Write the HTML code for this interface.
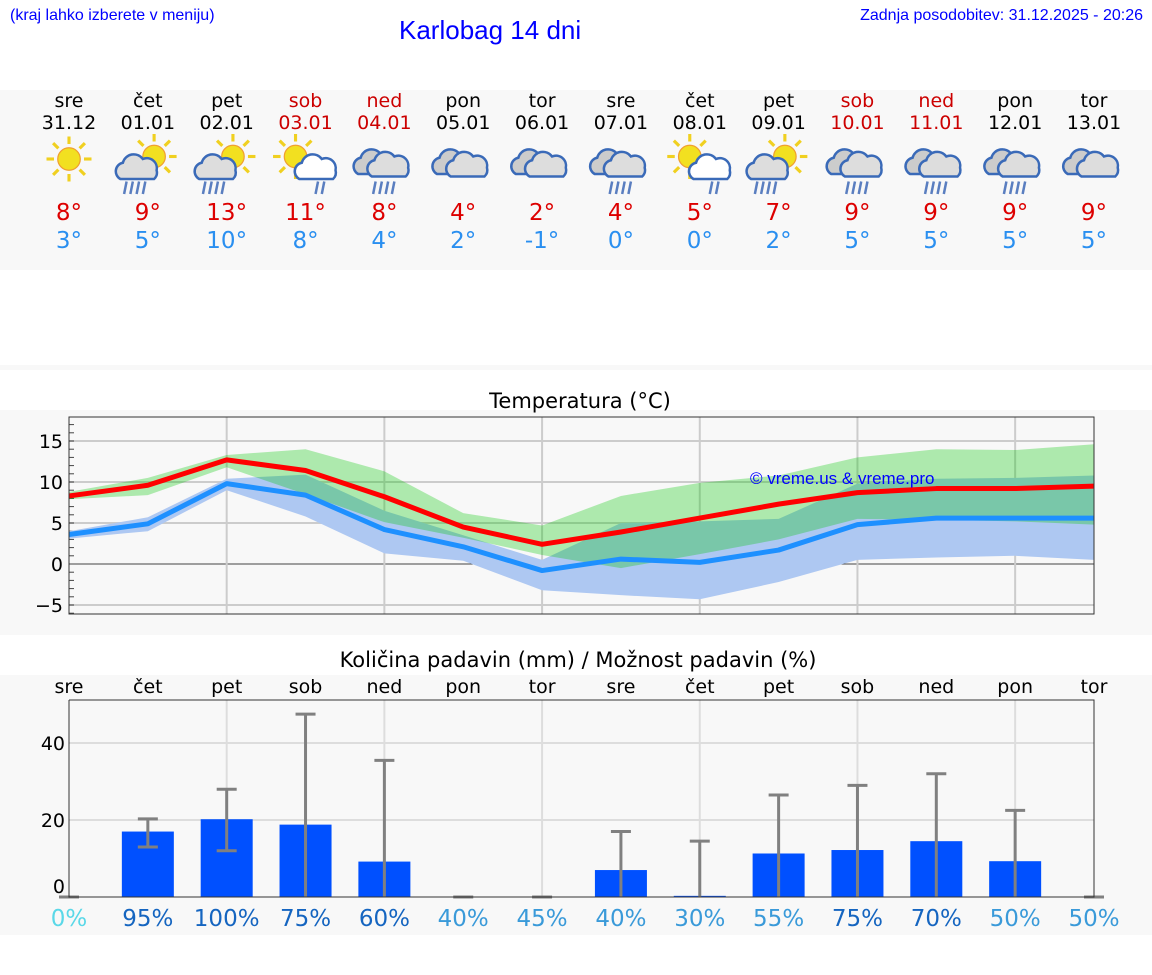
<!DOCTYPE html>
<html><head><meta charset="utf-8"><style>
body{margin:0;width:1152px;height:975px;background:#fff;font-family:"DejaVu Sans","Liberation Sans",sans-serif;position:relative;overflow:hidden}
.a{position:absolute}
</style></head><body>
<div class="a" style="left:10px;top:7px;font-size:16px;color:#00f;font-family:'Liberation Sans',sans-serif">(kraj lahko izberete v meniju)</div>
<div class="a" style="left:399px;top:15px;font-size:26px;color:#00f;font-family:'Liberation Sans',sans-serif">Karlobag 14 dni</div>
<div class="a" style="right:9px;top:7px;font-size:16px;color:#00f;font-family:'Liberation Sans',sans-serif">Zadnja posodobitev: 31.12.2025 - 20:26</div>
<svg class="a" style="left:0;top:0" width="1152" height="975" id="svg">
<rect x="0" y="90" width="1152" height="180" fill="#f8f8f8"/>
<rect x="0" y="365" width="1152" height="5" fill="#f8f8f8"/>
<rect x="0" y="410" width="1152" height="225" fill="#f8f8f8"/>
<rect x="0" y="675" width="1152" height="260" fill="#f8f8f8"/>
<text x="580" y="408" text-anchor="middle" font-size="21">Temperatura (°C)</text>
<text x="578" y="667" text-anchor="middle" font-size="21">Količina padavin (mm) / Možnost padavin (%)</text>
<g id="g"></g>
</svg>
<script>
const days=["sre","čet","pet","sob","ned","pon","tor","sre","čet","pet","sob","ned","pon","tor"];
const dates=["31.12","01.01","02.01","03.01","04.01","05.01","06.01","07.01","08.01","09.01","10.01","11.01","12.01","13.01"];
const weekend=[0,0,0,1,1,0,0,0,0,0,1,1,0,0];
const icons=[0,1,1,2,3,4,4,3,2,1,3,3,3,4];
const tmax=[8,9,13,11,8,4,2,4,5,7,9,9,9,9];
const tmin=[3,5,10,8,4,2,-1,0,0,2,5,5,5,5];
const maxLine=[8.3,9.6,12.7,11.4,8.2,4.5,2.4,3.9,5.6,7.3,8.7,9.2,9.2,9.5];
const minLine=[3.6,4.9,9.8,8.4,4.2,2.1,-0.8,0.6,0.2,1.7,4.8,5.6,5.6,5.6];
const maxHi=[8.8,10.5,13.3,14.0,11.3,6.2,4.7,8.3,9.9,10.8,13.0,14.0,13.9,14.6];
const maxLo=[7.9,8.4,11.8,8.5,5.1,3.2,1.1,-0.5,1.2,3.0,5.5,5.4,5.2,4.8];
const minHi=[4.0,5.7,10.4,10.9,6.5,3.5,0.5,5.0,5.2,5.5,9.8,10.4,10.5,10.8];
const minLo=[3.1,4.0,9.0,5.8,1.3,0.4,-3.2,-3.8,-4.3,-2.2,0.5,0.8,1.0,0.5];
const rain=[0,17,20.2,18.8,9.2,0,0,7,0.3,11.3,12.2,14.5,9.3,0];
const rainLo=[0,13,12,0,0,0,0,0,0,0,0,0,0,0];
const rainHi=[0,20.3,28,47.5,35.5,0,0,17,14.5,26.5,29,32,22.5,0];
const prob=[0,95,100,75,60,40,45,40,30,55,75,70,50,50];
const tTicks=[-5,0,5,10,15];
const rTicks=[0,20,40];
const NS="http://www.w3.org/2000/svg";
const g=document.getElementById('g');
function el(t,a,p){const e=document.createElementNS(NS,t);for(const k in a)e.setAttribute(k,a[k]);(p||g).appendChild(e);return e}
const X=i=>69+i*1025/13;
const TY=v=>564-8.2*v;
const RY=v=>897-3.85*v;
days.forEach((d,i)=>{
 const c=weekend[i]?'#c00':'#000';
 let t=el('text',{x:X(i),y:107,'text-anchor':'middle','font-size':19,fill:c});t.textContent=d;
 
 t=el('text',{x:X(i),y:129,'text-anchor':'middle','font-size':19,fill:c});t.textContent=dates[i];
 
 t=el('text',{x:X(i),y:220,'text-anchor':'middle','font-size':23,fill:'#d00'});t.textContent=tmax[i]+'°';
 
 t=el('text',{x:X(i),y:248,'text-anchor':'middle','font-size':23,fill:'#2a8ff0'});t.textContent=tmin[i]+'°';
 
 const ic=el('g',{transform:`translate(${X(i)},164) scale(1.25)`});
 
 const sun=(cx,cy)=>{for(let k=0;k<8;k++){const a=k*Math.PI/4;el('line',{x1:cx+Math.cos(a)*12,y1:cy+Math.sin(a)*12,x2:cx+Math.cos(a)*18,y2:cy+Math.sin(a)*18,stroke:'#f0d020','stroke-width':2.5},ic)}el('circle',{cx,cy,r:9,fill:'#f2e020',stroke:'#f0a030'},ic)};
 const cloud=(cx,cy,f)=>{el('path',{d:`M${cx-15},${cy+8} a7,7 0 0 1 2,-13 a9,9 0 0 1 16,-3 a8,8 0 0 1 11,9 a7,7 0 0 1 -2,7 z`,fill:f,stroke:'#3a6ab8','stroke-width':2},ic)};
 const drops=(cx,cy,n)=>{for(let k=0;k<n;k++)el('line',{x1:cx+k*5+2,y1:cy,x2:cx+k*5,y2:cy+10,stroke:'#5a7ec0','stroke-width':2},ic)};
 if(icons[i]==0)sun(0,-4);
 if(icons[i]==1){sun(5,-6);cloud(-7,4,'#ddd');drops(-19,14,4)}
 if(icons[i]==2){sun(-8,-6);cloud(10,4,'#fff');drops(8,14,2)}
 if(icons[i]==3){cloud(-6,0,'#ccc');cloud(5,2,'#ddd');drops(-9,14,4)}
 if(icons[i]==4){cloud(-6,0,'#ccc');cloud(5,2,'#ddd')}
});
tTicks.forEach(v=>{el('line',{x1:69,x2:1094,y1:TY(v),y2:TY(v),stroke:v==0?'#444':'#ccc','stroke-width':v==0?1:2});
 const t=el('text',{x:63,y:TY(v)+7,'text-anchor':'end','font-size':19});t.textContent=v<0?'−'+(-v):v;
 });
for(let v=-6;v<=17;v++)el('line',{x1:69,x2:74,y1:TY(v),y2:TY(v),stroke:'#444','stroke-width':1});
for(let i=2;i<13;i+=2){el('line',{x1:X(i),x2:X(i),y1:417,y2:614,stroke:'#ccc','stroke-width':2});el('line',{x1:X(i),x2:X(i),y1:700,y2:897,stroke:'#ddd','stroke-width':2})}
const band=(hi,lo,f,n)=>{const p=hi.map((v,i)=>X(i)+','+TY(v)).concat(lo.map((v,i)=>X(i)+','+TY(v)).reverse());const e=el('polygon',{points:p.join(' '),fill:f});};
band(minHi,minLo,'#aec8f2','min-temp-range');
band(maxHi,maxLo,'rgba(0,200,0,0.3)','max-temp-range');
const line=(a,c,n)=>{const e=el('polyline',{points:a.map((v,i)=>X(i)+','+TY(v)).join(' '),fill:'none',stroke:c,'stroke-width':5,'stroke-linejoin':'round'});};
line(minLine,'#1e90ff','min-temp-line');
line(maxLine,'#f00','max-temp-line');
el('rect',{x:69,y:417,width:1025,height:197,fill:'none',stroke:'#333'});
let wm=el('text',{x:750,y:484,'font-size':17,fill:'#00f','font-family':'Liberation Sans,sans-serif'});wm.textContent='© vreme.us & vreme.pro';

rTicks.forEach(v=>{if(v)el('line',{x1:69,x2:1094,y1:RY(v),y2:RY(v),stroke:'#ddd','stroke-width':2});
 const t=el('text',{x:65,y:RY(v)+(v?7:-4),'text-anchor':'end','font-size':19});t.textContent=v;
 });
days.forEach((d,i)=>{
 let t=el('text',{x:X(i),y:693,'text-anchor':'middle','font-size':19});t.textContent=d;
 
 const b=el('rect',{x:X(i)-26,y:RY(rain[i]),width:52,height:RY(0)-RY(rain[i]),fill:'#0050ff'});
 
 const eg=el('g',{stroke:'#808080','stroke-width':3});
 
 el('line',{x1:X(i),x2:X(i),y1:RY(rainLo[i]),y2:RY(rainHi[i])},eg);
 el('line',{x1:X(i)-10,x2:X(i)+10,y1:RY(rainHi[i]),y2:RY(rainHi[i])},eg);
 if(rainLo[i]>0)el('line',{x1:X(i)-10,x2:X(i)+10,y1:RY(rainLo[i]),y2:RY(rainLo[i])},eg);
 const p=prob[i];const c=p==0?'#5ad8e8':p>=60?'#1565c0':'#3a9ad9';
 t=el('text',{x:X(i),y:926,'text-anchor':'middle','font-size':23,fill:c});t.textContent=p+'%';
 
});
el('polyline',{points:'69,700 1094,700 1094,897 69,897 69,700',fill:'none',stroke:'#333'});
</script>
</body></html>
